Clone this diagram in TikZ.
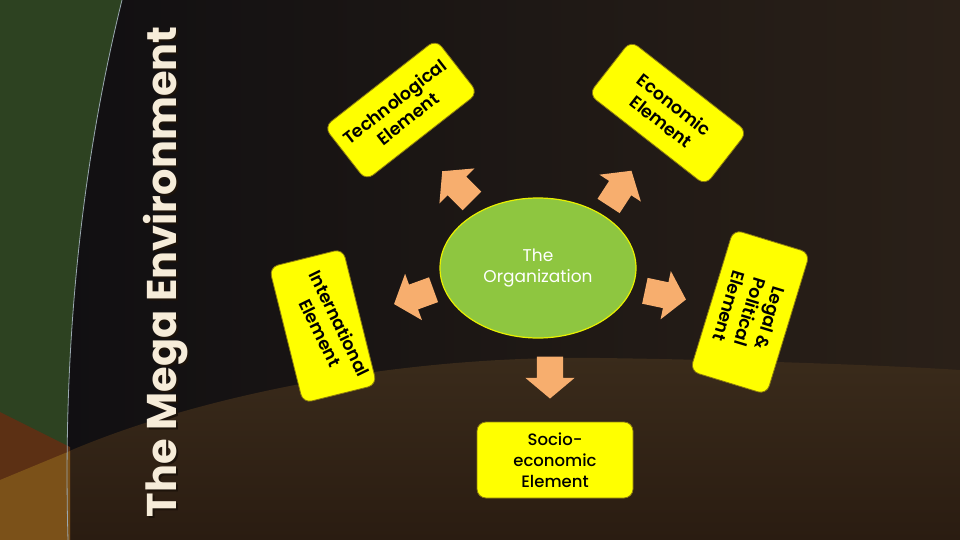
\documentclass[tikz,border=0pt]{standalone}
\usepackage{fontspec}
\setmainfont{Poppins}
\newfontfamily\semifont{Poppins SemiBold}
\newfontfamily\medfont{Poppins Medium}
\usetikzlibrary{shapes.geometric,shapes.arrows}
\definecolor{bgdark}{HTML}{16120F}
\definecolor{bgleft}{HTML}{0F0E11}
\definecolor{bgright}{HTML}{2A2018}
\definecolor{bandtop}{HTML}{3A2B1B}
\definecolor{bandbot}{HTML}{2A1C11}
\definecolor{leftgreen}{HTML}{2D4221}
\definecolor{leftbrown}{HTML}{5C3014}
\definecolor{leftgold}{HTML}{7B5119}
\definecolor{edgeline}{HTML}{9AA8B0}
\definecolor{titlecol}{HTML}{F6ECD9}
\definecolor{boxyellow}{HTML}{FFFF00}
\definecolor{boxedge}{HTML}{8A7A10}
\definecolor{orggreen}{HTML}{8EC640}
\definecolor{ellborder}{HTML}{E8F000}
\definecolor{arrowcol}{HTML}{F7AE6E}
\tikzset{
  ybox/.style={rectangle, rounded corners=9pt, fill=boxyellow, draw=boxedge, line width=0.8pt,
    align=center, text=black, inner sep=0pt},
  btext/.style={font=\semifont\fontsize{17.5}{21.5}\selectfont, align=center, text=black},
  barrow/.style={single arrow, fill=arrowcol, draw=none, minimum height=42pt,
    inner xsep=0pt, inner ysep=13pt, single arrow head extend=11.5pt,
    single arrow tip angle=100, single arrow head indent=0pt}
}
\begin{document}
\begin{tikzpicture}[x=1pt,y=-1pt]
\useasboundingbox (0,0) rectangle (960,540);
% background
\shade[left color=bgleft, right color=bgright] (0,0) rectangle (960,540);
\shade[top color=bandtop, bottom color=bandbot]
  (67,452) .. controls (200,395) and (400,355) .. (600,358)
  .. controls (750,360) and (900,366) .. (960,370) -- (960,540) -- (67,540) -- cycle;
\fill[leftgreen] (0,0) -- (122,0) .. controls (85,150) and (62,330) .. (68,540) -- (0,540) -- cycle;
\fill[leftbrown] (0,412) -- (70,447) -- (70,540) -- (0,540) -- cycle;
\fill[leftgold] (0,480) -- (70,451) -- (70,540) -- (0,540) -- cycle;
\draw[edgeline, line width=0.8pt] (122,0) .. controls (85,150) and (62,330) .. (68,540);
% title
\node[rotate=90, font=\bfseries\fontsize{41.5}{42}\selectfont, text=black!85!brown] (titleshadow) at (168,274) {The Mega Environment};
\node[rotate=90, font=\bfseries\fontsize{41.5}{42}\selectfont, text=titlecol] (title) at (166,272) {The Mega Environment};
% centre
\node[ellipse, minimum width=196pt, minimum height=140pt, fill=orggreen, draw=ellborder, line width=1.2pt,
  text=white, align=center, font=\fontsize{17}{21}\selectfont, inner sep=0pt] (org) at (538,268) {The\\Organization};
% element boxes
\node[ybox, btext, minimum width=142pt, minimum height=68pt, rotate=38] (tech) at (401,110) {Technological\\Element};
\node[ybox, btext, minimum width=148pt, minimum height=68pt, rotate=-38] (econ) at (668,113) {Economic\\Element};
\node[ybox, minimum width=140pt, minimum height=76pt, rotate=-76] (intl) at (323,326) {};
\node[btext, rotate=-64] (intltext) at (330,328) {International\\Element};
\node[ybox, btext, minimum width=148pt, minimum height=80pt, rotate=-107] (legal) at (750,312) {Legal \&\\Political\\Element};
\node[ybox, minimum width=156pt, minimum height=76pt, align=center,
  font=\medfont\fontsize{16.5}{21}\selectfont] (socio) at (555,460) {Socio-\\economic\\Element};
% block arrows
\node[barrow, rotate=135] (a1) at (461,190) {};
\node[barrow, rotate=57] (a2) at (617,193) {};
\node[barrow, rotate=200] (a3) at (419,295) {};
\node[barrow, rotate=-12] (a4) at (660,294) {};
\node[barrow, rotate=-90] (a5) at (550,372) {};
\end{tikzpicture}
\end{document}
